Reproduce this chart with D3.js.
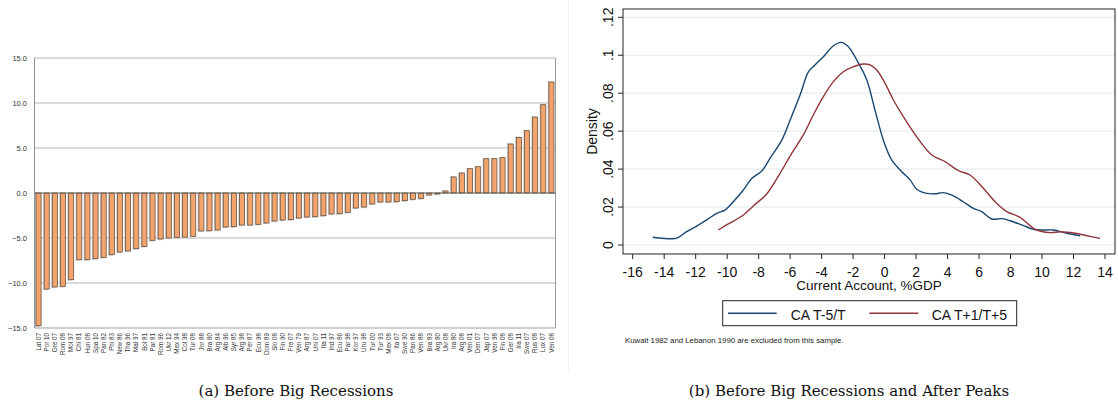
<!DOCTYPE html>
<html>
<head>
<meta charset="utf-8">
<script src="https://cdn.jsdelivr.net/npm/d3@7"></script>
<style>
  html, body { margin: 0; padding: 0; background: #fff; }
  svg { display: block; }
</style>
</head>
<body>
<svg id="chart" width="1118" height="400"></svg>
<script>
// ---------- Panel (a) data ----------
const countries = ["Lat 07","Por 10","Gre 07","Rom 08","Mol 97","Chi 81","Hun 08","Spa 10","Pan 82","Phi 83",
  "New 86","Tha 96","Mal 97","Bol 81","Par 81","Rom 96","Ukr 12","Mex 94","Col 98","Tur 08",
  "Jor 88","Bra 80","Arg 84","Alb 96","Syr 85","Arg 98","Per 87","Ecu 98","Dom 89","Slo 08",
  "Fin 90","Fre 07","Ven 79","Arg 87","Uni 07","Ita 11","Ind 97","Ecu 86","Par 98","Kor 97",
  "Uru 98","Tur 00","Tur 93","Mex 08","Ita 07","Swe 90","Pan 86","Ven 88","Bra 83","Arg 80",
  "Ukr 08","Ira 80","Arg 08","Ven 01","Den 07","Jap 07","Ven 98","Fin 08","Ger 08","Ira 11",
  "Swe 07","Rus 08","Lux 07","Ven 08"];
const caValues = [-14.75,-10.67,-10.44,-10.37,-9.63,-7.41,-7.41,-7.30,-7.15,-6.85,
  -6.56,-6.44,-6.19,-5.93,-5.26,-5.11,-5.00,-4.93,-4.90,-4.81,
  -4.22,-4.19,-4.11,-3.78,-3.74,-3.56,-3.56,-3.48,-3.33,-3.11,
  -3.00,-2.96,-2.78,-2.67,-2.63,-2.52,-2.33,-2.30,-2.15,-1.67,
  -1.56,-1.22,-1.00,-1.00,-0.96,-0.85,-0.70,-0.61,-0.22,-0.11,
  0.22,1.78,2.22,2.70,2.92,3.81,3.81,3.92,5.44,6.18,
  6.92,8.44,9.81,12.33];
const barTicks = [15,10,5,0,-5,-10,-15];

// ---------- Panel (b) data ----------
const densityTicksY = [0,0.02,0.04,0.06,0.08,0.10,0.12];
const densityTickLabelsY = ["0",".02",".04",".06",".08",".1",".12"];
const densityTicksX = [-16,-14,-12,-10,-8,-6,-4,-2,0,2,4,6,8,10,12,14];
const blueX = [-14.73,-13.52,-13.2,-12.57,-11.93,-11.3,-10.66,-10.14,-9.61,-8.97,-8.44,-7.8,-7.28,-6.53,-6.0,-5.37,-4.84,-4.42,-3.89,-3.25,-2.75,-2.3,-1.72,-1.13,-0.61,-0.08,0.45,1.09,1.62,2.04,2.68,3.21,3.73,4.27,5.0,5.64,6.17,6.81,7.44,7.97,8.82,9.45,10.09,10.72,11.57,12.42];
const blueY = [0.0041,0.0033,0.0036,0.0070,0.0100,0.0132,0.0167,0.0184,0.0228,0.0290,0.0350,0.0390,0.0457,0.0553,0.0659,0.0790,0.0913,0.0949,0.0992,0.1050,0.1068,0.1045,0.0968,0.0870,0.0711,0.0553,0.0448,0.0386,0.0343,0.0294,0.0272,0.0270,0.0276,0.0263,0.0228,0.0193,0.0176,0.0137,0.0139,0.0128,0.0102,0.0083,0.0079,0.0079,0.0062,0.0049];
const redX = [-10.56,-9.93,-8.97,-8.34,-7.49,-6.64,-5.9,-5.16,-4.53,-3.89,-3.25,-2.62,-2.09,-1.35,-0.92,-0.5,0.03,0.56,1.19,2.04,3.0,3.84,4.69,5.43,6.27,7.02,7.76,8.6,9.56,10.51,11.15,12.1,12.84,13.69];
const redY = [0.0079,0.0111,0.0158,0.0206,0.0269,0.0378,0.0483,0.0580,0.0685,0.0782,0.0861,0.0913,0.0936,0.0954,0.0949,0.0922,0.0852,0.0764,0.0676,0.0570,0.0474,0.0439,0.0392,0.0369,0.0299,0.0228,0.0176,0.0146,0.0083,0.0065,0.0070,0.0062,0.0049,0.0035];
const legendLabels = ["CA T-5/T","CA T+1/T+5"];
const seriesColors = ["#1a476f","#90353b"];

const svg = d3.select("#chart");

// ================= Panel (a) =================
const A = {left: 34.5, right: 555.5, top: 58, bottom: 328};
const xA = d3.scaleBand().domain(countries).range([A.left, A.right]).paddingInner(0.38).paddingOuter(0.19);
const yA = d3.scaleLinear().domain([-15, 15]).range([A.bottom, A.top]);
const gA = svg.append("g");

// gridlines
gA.selectAll("line.grid").data(barTicks.filter(t => t !== 0 && t !== -15)).join("line")
  .attr("x1", A.left).attr("x2", A.right)
  .attr("y1", d => yA(d)).attr("y2", d => yA(d))
  .attr("stroke", "#b5b5b5").attr("stroke-width", 1);
// bottom line
gA.append("line").attr("x1", A.left).attr("x2", A.right)
  .attr("y1", yA(-15)).attr("y2", yA(-15)).attr("stroke", "#a0a0a0");
// left / right axis lines
gA.append("line").attr("x1", A.left).attr("x2", A.left)
  .attr("y1", A.top).attr("y2", A.bottom).attr("stroke", "#8c8c8c");
gA.append("line").attr("x1", A.right).attr("x2", A.right)
  .attr("y1", A.top).attr("y2", A.bottom).attr("stroke", "#9a9a9a");

// tick labels
gA.selectAll("text.ytick").data(barTicks).join("text")
  .attr("x", 27).attr("y", d => yA(d) + 2.6)
  .attr("text-anchor", "end")
  .attr("font-family", "Liberation Sans, Arial, sans-serif")
  .attr("font-size", 7.5).attr("fill", "#333")
  .text(d => d3.format(".1f")(d));

const bars = countries.map((c, i) => ({c, v: caValues[i]}));
// shadows
gA.selectAll("rect.shadow").data(bars).join("rect")
  .attr("x", d => xA(d.c) - 1.2)
  .attr("y", d => d.v >= 0 ? yA(d.v) - 0.8 : yA(0))
  .attr("width", xA.bandwidth())
  .attr("height", d => Math.abs(yA(d.v) - yA(0)) + 1.2)
  .attr("fill", "#cfcfcf");
// bars
gA.selectAll("rect.bar").data(bars).join("rect")
  .attr("x", d => xA(d.c))
  .attr("y", d => Math.min(yA(d.v), yA(0)))
  .attr("width", xA.bandwidth())
  .attr("height", d => Math.abs(yA(d.v) - yA(0)))
  .attr("fill", "#f3a46c").attr("stroke", "#6a5444").attr("stroke-width", 0.8);
// zero line
gA.append("line").attr("x1", A.left).attr("x2", A.right)
  .attr("y1", yA(0)).attr("y2", yA(0)).attr("stroke", "#5a5a5a").attr("stroke-width", 1);

// category labels
gA.selectAll("text.cat").data(countries).join("text")
  .attr("transform", d => `translate(${xA(d) + xA.bandwidth()/2 + 2.2},${A.bottom + 5}) rotate(-90)`)
  .attr("text-anchor", "end")
  .attr("font-family", "Liberation Sans, Arial, sans-serif")
  .attr("font-size", 6.3).attr("fill", "#333")
  .text(d => d);

// faint separator
svg.append("line").attr("x1", 568.5).attr("x2", 568.5).attr("y1", 0).attr("y2", 372)
  .attr("stroke", "#eef3f3");

// ================= Panel (b) =================
const B = {left: 623, right: 1115, top: 9, bottom: 254};
const xB = d3.scaleLinear().domain([-16, 14]).range([632.7, 1105]);
const yB = d3.scaleLinear().domain([0, 0.12]).range([245, 17.3]);
const gB = svg.append("g");

gB.selectAll("line.grid").data(densityTicksY).join("line")
  .attr("x1", B.left).attr("x2", B.right)
  .attr("y1", d => yB(d)).attr("y2", d => yB(d))
  .attr("stroke", "#e6eeef").attr("stroke-width", 1.2);

gB.append("rect").attr("x", B.left).attr("y", B.top)
  .attr("width", B.right - B.left).attr("height", B.bottom - B.top)
  .attr("fill", "none").attr("stroke", "#222").attr("stroke-width", 1);

// y ticks
gB.selectAll("line.yt").data(densityTicksY).join("line")
  .attr("x1", B.left - 5).attr("x2", B.left)
  .attr("y1", d => yB(d)).attr("y2", d => yB(d)).attr("stroke", "#222");
gB.selectAll("text.yt").data(densityTicksY).join("text")
  .attr("transform", d => `translate(612.5,${yB(d)}) rotate(-90)`)
  .attr("text-anchor", "middle")
  .attr("font-family", "Liberation Sans, Arial, sans-serif")
  .attr("font-size", 14).attr("fill", "#111")
  .text((d, i) => densityTickLabelsY[i]);
// x ticks
gB.selectAll("line.xt").data(densityTicksX).join("line")
  .attr("x1", d => xB(d)).attr("x2", d => xB(d))
  .attr("y1", B.bottom).attr("y2", B.bottom + 5).attr("stroke", "#222");
gB.selectAll("text.xt").data(densityTicksX).join("text")
  .attr("x", d => xB(d)).attr("y", 276.7)
  .attr("text-anchor", "middle")
  .attr("font-family", "Liberation Sans, Arial, sans-serif")
  .attr("font-size", 14).attr("fill", "#111")
  .text(d => d);

// axis titles
gB.append("text").attr("x", (B.left + B.right)/2).attr("y", 289.5)
  .attr("text-anchor", "middle")
  .attr("font-family", "Liberation Sans, Arial, sans-serif")
  .attr("font-size", 13.5).attr("fill", "#111")
  .text("Current Account, %GDP");
gB.append("text").attr("transform", `translate(596.5,${(B.top + B.bottom)/2}) rotate(-90)`)
  .attr("text-anchor", "middle")
  .attr("font-family", "Liberation Sans, Arial, sans-serif")
  .attr("font-size", 14).attr("fill", "#111")
  .text("Density");

// lines
const line = d3.line().x(d => xB(d[0])).y(d => yB(d[1])).curve(d3.curveCatmullRom.alpha(0.5));
gB.append("path").datum(blueX.map((x, i) => [x, blueY[i]]))
  .attr("d", line).attr("fill", "none").attr("stroke", seriesColors[0]).attr("stroke-width", 1.4);
gB.append("path").datum(redX.map((x, i) => [x, redY[i]]))
  .attr("d", line).attr("fill", "none").attr("stroke", seriesColors[1]).attr("stroke-width", 1.4);

// legend
const lg = gB.append("g");
lg.append("rect").attr("x", 722.7).attr("y", 300.7).attr("width", 294).attr("height", 25)
  .attr("fill", "#fff").attr("stroke", "#222").attr("stroke-width", 1);
const legItems = [{x1: 728, x2: 776.7, tx: 790.7}, {x1: 869.3, x2: 918.3, tx: 931.7}];
legItems.forEach((it, i) => {
  lg.append("line").attr("x1", it.x1).attr("x2", it.x2).attr("y1", 313.3).attr("y2", 313.3)
    .attr("stroke", seriesColors[i]).attr("stroke-width", 1.4);
  lg.append("text").attr("x", it.tx).attr("y", 320)
    .attr("font-family", "Liberation Sans, Arial, sans-serif")
    .attr("font-size", 14).attr("fill", "#111").text(legendLabels[i]);
});

// note
gB.append("text").attr("x", 625).attr("y", 343.3)
  .attr("font-family", "Liberation Sans, Arial, sans-serif")
  .attr("font-size", 7.8).attr("fill", "#222")
  .text("Kuwait 1982 and Lebanon 1990 are excluded from this sample.");

// captions
svg.append("text").attr("x", 296).attr("y", 396)
  .attr("text-anchor", "middle")
  .attr("font-family", "DejaVu Serif, serif")
  .attr("font-size", 15).attr("fill", "#111")
  .text("(a) Before Big Recessions");
svg.append("text").attr("x", 849).attr("y", 396)
  .attr("text-anchor", "middle")
  .attr("font-family", "DejaVu Serif, serif")
  .attr("font-size", 15).attr("fill", "#111")
  .text("(b) Before Big Recessions and After Peaks");
</script>
</body>
</html>
